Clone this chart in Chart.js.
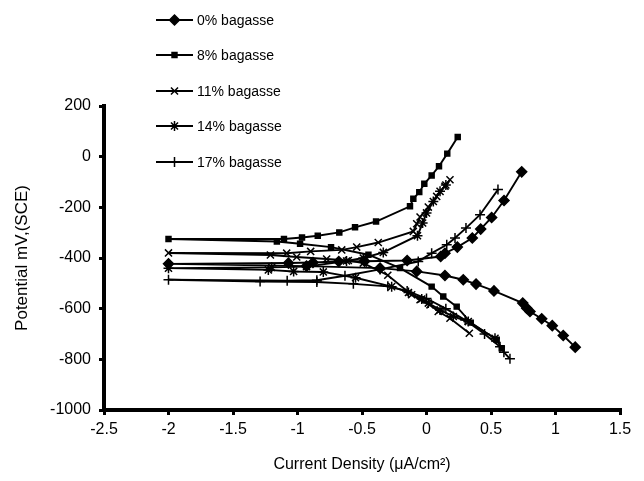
<!DOCTYPE html>
<html>
<head>
<meta charset="utf-8">
<script src="https://cdn.jsdelivr.net/npm/chart.js@4.4.0/dist/chart.umd.min.js"></script>
<style>
  html, body { margin: 0; padding: 0; background: #fff; }
  #wrap { width: 644px; height: 481px; }
</style>
</head>
<body>
<div id="wrap"><canvas id="tafel" width="644" height="481"></canvas></div>
<script>
// Tafel polarisation curves, one series per bagasse content.
// Each series runs from the cathodic end, back to the low-current corner, then up the anodic branch.
const seriesNames = ['0% bagasse', '8% bagasse', '11% bagasse', '14% bagasse', '17% bagasse'];

const x0 = [1.153, 1.060, 0.975, 0.893, 0.802, 0.777, 0.746, 0.523, 0.384, 0.285, 0.143, -0.076, -0.36, -0.93, -2.0,
  -1.07, -0.88, -0.68, -0.48, -0.15, 0.11, 0.143, 0.239, 0.355, 0.42, 0.505, 0.601, 0.738];
const y0 = [-752, -706, -667, -640, -611, -598, -578, -530, -503, -486, -469, -453, -440, -432, -423,
  -420, -418, -414, -413, -410, -394, -381, -357, -321, -286, -240, -173, -60];

const x8 = [0.583, 0.544, 0.343, 0.234, 0.130, 0.040, -0.205, -0.45, -0.74, -0.98, -1.16, -2.0,
  -1.105, -0.965, -0.843, -0.676, -0.554, -0.391, -0.128, -0.102, -0.056, -0.017, 0.040, 0.097, 0.161, 0.242];
const y8 = [-756, -723, -655, -592, -552, -513, -440, -387, -357, -344, -335, -325,
  -325, -319, -312, -299, -279, -256, -196, -166, -140, -107, -74, -38, 12, 78];

const x11 = [0.332, 0.182, 0.091, 0.027, -0.05, -0.115, -0.3, -0.49, -0.606, -0.774, -1.006, -1.21, -2.0,
  -1.084, -0.898, -0.657, -0.541, -0.374, -0.102, -0.076, -0.05, 0.014, 0.079, 0.143, 0.182];
const y11 = [-697, -638, -611, -585, -565, -545, -468, -420, -410, -404, -396, -388, -380,
  -381, -374, -368, -357, -339, -295, -265, -238, -199, -157, -117, -91];

const x14 = [0.531, 0.324, 0.208, 0.105, 0.014, -0.037, -0.14, -0.27, -0.55, -0.80, -1.03, -1.226, -2.0,
  -1.2, -0.93, -0.62, -0.49, -0.335, -0.07, -0.03, 0.0, 0.053, 0.105, 0.15];
const y14 = [-717, -651, -631, -605, -578, -562, -536, -513, -478, -455, -453, -447, -440,
  -437, -434, -412, -400, -378, -312, -262, -222, -177, -137, -112];

const x17 = [0.647, 0.60, 0.57, 0.45, 0.30, 0.15, 0.0, -0.15, -0.3, -0.567, -0.85, -1.29, -2.0,
  -1.08, -0.85, -0.632, -0.36, -0.064, 0.04, 0.157, 0.221, 0.306, 0.415, 0.554];
const y17 = [-798, -772, -750, -700, -645, -600, -560, -530, -512, -502, -495, -493, -486,
  -490, -488, -470, -445, -414, -381, -348, -321, -282, -229, -130];

const xTicks = [-2.5, -2, -1.5, -1, -0.5, 0, 0.5, 1, 1.5];
const yTicks = [-1000, -800, -600, -400, -200, 0, 200];

const markerStyles = ['rectRot', 'rect', 'crossRot', 'star', 'cross'];
const markerSizes = [5, 3.5, 5, 5, 5];

const fontFamily = '"Liberation Sans", Arial, Helvetica, sans-serif';

function pairs(xs, ys) {
  return xs.map((x, i) => ({ x: x, y: ys[i] }));
}

const allX = [x0, x8, x11, x14, x17];
const allY = [y0, y8, y11, y14, y17];

const datasets = seriesNames.map((name, i) => ({
  label: name,
  data: pairs(allX[i], allY[i]),
  showLine: true,
  borderColor: '#000',
  backgroundColor: '#000',
  borderWidth: 1.9,
  tension: 0,
  pointStyle: markerStyles[i],
  pointRadius: markerSizes[i],
  pointBorderWidth: 1.5,
  pointBackgroundColor: '#000',
  pointBorderColor: '#000'
}));

// legend sits top-left, partly over the plot, so it is drawn by hand
const legendRows = [20, 55, 91, 126, 162];
const legendPlugin = {
  id: 'cornerLegend',
  afterDraw(chart) {
    const ctx = chart.ctx;
    ctx.save();
    chart.data.datasets.forEach((ds, i) => {
      const y = legendRows[i];
      ctx.strokeStyle = '#000';
      ctx.fillStyle = '#000';
      ctx.lineWidth = 1.9;
      ctx.beginPath();
      ctx.moveTo(156, y);
      ctx.lineTo(193, y);
      ctx.stroke();
      ctx.lineWidth = ds.pointBorderWidth;
      Chart.helpers.drawPoint(ctx, {
        pointStyle: ds.pointStyle,
        radius: ds.pointRadius,
        borderWidth: ds.pointBorderWidth,
        rotation: 0
      }, 174.5, y);
      ctx.font = '14px ' + fontFamily;
      ctx.textAlign = 'left';
      ctx.textBaseline = 'middle';
      ctx.fillText(ds.label, 197, y + 1);
    });
    ctx.restore();
  }
};

const ctx = document.getElementById('tafel').getContext('2d');
const chart = new Chart(ctx, {
  type: 'scatter',
  data: { datasets: datasets },
  plugins: [legendPlugin],
  options: {
    responsive: false,
    animation: false,
    devicePixelRatio: 1,
    layout: { padding: { left: 0, right: 24, top: 106, bottom: 0 } },
    plugins: {
      legend: { display: false },
      tooltip: { enabled: false }
    },
    scales: {
      x: {
        type: 'linear',
        min: -2.5,
        max: 1.5,
        afterBuildTicks: (scale) => { scale.ticks = xTicks.map(v => ({ value: v })); },
        afterFit: (scale) => { scale.height = 71; scale.paddingLeft = 0; scale.paddingRight = 0; },
        ticks: {
          color: '#000',
          font: { family: fontFamily, size: 16 },
          padding: 5,
          maxRotation: 0,
          callback: (v) => String(v)
        },
        grid: { display: true, drawOnChartArea: false, drawTicks: true, tickLength: 5, lineWidth: 3, color: '#000' },
        border: { display: true, width: 4, color: '#000' },
        title: {
          display: true,
          text: 'Current Density (μA/cm²)',
          color: '#000',
          font: { family: fontFamily, size: 16 },
          padding: { top: 0, bottom: 7 }
        }
      },
      y: {
        type: 'linear',
        min: -1000,
        max: 200,
        afterBuildTicks: (scale) => { scale.ticks = yTicks.map(v => ({ value: v })); },
        afterFit: (scale) => { scale.width = 104; scale.paddingTop = 0; scale.paddingBottom = 0; },
        ticks: {
          color: '#000',
          font: { family: fontFamily, size: 16 },
          padding: 8,
          callback: (v) => String(v)
        },
        grid: { display: true, drawOnChartArea: false, drawTicks: true, tickLength: 5, lineWidth: 3, color: '#000' },
        border: { display: true, width: 4, color: '#000' },
        title: {
          display: true,
          text: 'Potential mV,(SCE)',
          color: '#000',
          font: { family: fontFamily, size: 17 },
          padding: { top: 12, bottom: 0 }
        }
      }
    }
  }
});
</script>
</body>
</html>
